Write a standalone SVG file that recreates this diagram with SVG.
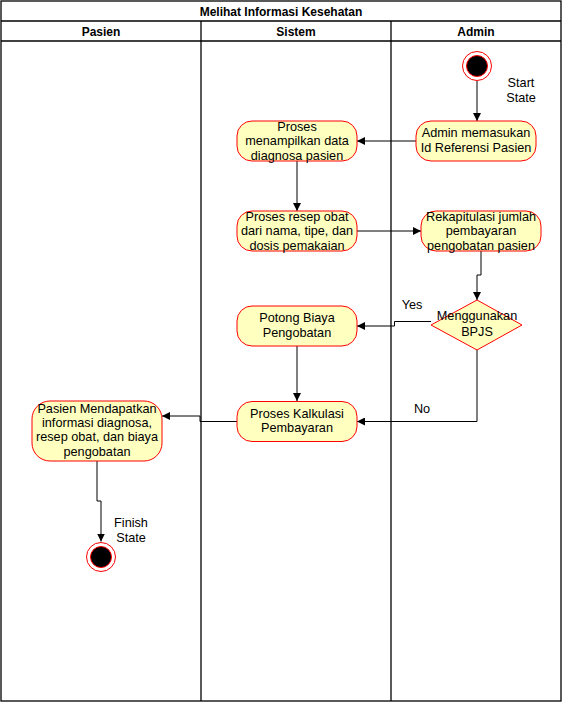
<svg xmlns="http://www.w3.org/2000/svg" width="562" height="702" viewBox="0 0 562 702">
<defs>
<marker id="arr" viewBox="0 0 10 10" refX="10" refY="5" markerWidth="8" markerHeight="8" markerUnits="userSpaceOnUse" orient="auto">
<path d="M0,0 L10,5 L0,10 z" fill="#000"/>
</marker>
<style>
text{font-family:"Liberation Sans",Arial,sans-serif;font-size:12.7px;fill:#000;text-anchor:middle}
.b{font-weight:bold;font-size:12px}
.lane{fill:none;stroke:#000;stroke-width:1.3}
.act{fill:#ffffc0;stroke:#ff0000;stroke-width:1}
.c{fill:none;stroke:#000;stroke-width:1;marker-end:url(#arr)}
</style>
</defs>
<rect x="0" y="0" width="562" height="702" fill="#fff"/>
<g id="pool">
<rect class="lane" x="1" y="1" width="560" height="700"/>
<line class="lane" x1="1" y1="21" x2="561" y2="21"/>
<line class="lane" x1="1" y1="41" x2="561" y2="41"/>
<line class="lane" x1="201" y1="21" x2="201" y2="701"/>
<line class="lane" x1="391" y1="21" x2="391" y2="701"/>
<text class="b" x="281" y="15.5">Melihat Informasi Kesehatan</text>
<text class="b" x="101" y="35.5">Pasien</text>
<text class="b" x="296" y="35.5">Sistem</text>
<text class="b" x="476" y="35.5">Admin</text>
</g>
<g id="connectors">
<path class="c" d="M477,81 V121"/>
<path class="c" d="M416,141 H357"/>
<path class="c" d="M297,161 V211"/>
<path class="c" d="M357,231 H421"/>
<path class="c" d="M481,251 V275 H477 V300"/>
<path class="c" d="M431,321.5 H394.5 V326 H357"/>
<path class="c" d="M297,346 V401"/>
<path class="c" d="M477,350 V421.5 H357"/>
<path class="c" d="M237,421.5 H200 V416 H162"/>
<path class="c" d="M97,461 V501 H101 V541.5"/>
<text x="412" y="309">Yes</text>
<text x="422" y="413">No</text>
</g>
<g id="start">
<circle cx="477" cy="66" r="14.5" fill="#fff" stroke="#ff0000" stroke-width="1"/>
<circle cx="477" cy="66" r="10.5" fill="#000" stroke="#ff0000" stroke-width="1"/>
<text x="521" y="87">Start</text>
<text x="521" y="102">State</text>
</g>
<g id="admin-input">
<rect class="act" x="416" y="121" width="120" height="40" rx="15"/>
<text x="476" y="137">Admin memasukan</text>
<text x="476" y="151.5">Id Referensi Pasien</text>
</g>
<g id="tampil">
<rect class="act" x="237" y="121" width="120" height="40" rx="15"/>
<text x="297" y="130.5">Proses</text>
<text x="297" y="145">menampilkan data</text>
<text x="297" y="159.5">diagnosa pasien</text>
</g>
<g id="resep">
<rect class="act" x="237" y="211" width="120" height="40" rx="15"/>
<text x="297" y="220.5">Proses resep obat</text>
<text x="297" y="235">dari nama, tipe, dan</text>
<text x="297" y="249.5">dosis pemakaian</text>
</g>
<g id="rekap">
<rect class="act" x="421" y="211" width="120" height="40" rx="15"/>
<text x="481" y="220.5">Rekapitulasi jumlah</text>
<text x="481" y="235">pembayaran</text>
<text x="481" y="249.5">pengobatan pasien</text>
</g>
<g id="bpjs">
<polygon class="act" points="477,300 522,325 477,350 431,325"/>
<text x="477" y="320">Menggunakan</text>
<text x="477" y="335.5">BPJS</text>
</g>
<g id="potong">
<rect class="act" x="237" y="306" width="120" height="40" rx="15"/>
<text x="297" y="322">Potong Biaya</text>
<text x="297" y="336.5">Pengobatan</text>
</g>
<g id="kalkulasi">
<rect class="act" x="237" y="401.5" width="120" height="40" rx="15"/>
<text x="297" y="417.5">Proses Kalkulasi</text>
<text x="297" y="432">Pembayaran</text>
</g>
<g id="pasien-info">
<rect class="act" x="32" y="401" width="130" height="60" rx="18"/>
<text x="97" y="412.5">Pasien Mendapatkan</text>
<text x="97" y="427">informasi diagnosa,</text>
<text x="97" y="441">resep obat, dan biaya</text>
<text x="97" y="455.5">pengobatan</text>
</g>
<g id="finish">
<circle cx="101" cy="557" r="14.5" fill="#fff" stroke="#ff0000" stroke-width="1"/>
<circle cx="101" cy="557" r="10.5" fill="#000" stroke="#ff0000" stroke-width="1"/>
<text x="131" y="527">Finish</text>
<text x="131" y="541.5">State</text>
</g>
</svg>
